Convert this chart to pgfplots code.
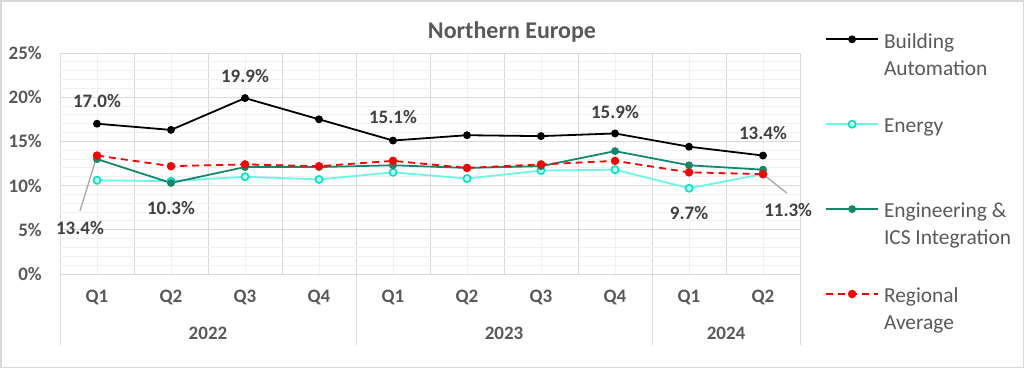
\documentclass[border=0pt]{standalone}
\usepackage{fontspec}
\setmainfont{Carlito}
\usepackage{pgfplots}
\pgfplotsset{compat=1.18}
\definecolor{txt}{HTML}{595959}
\definecolor{lbl}{HTML}{404040}
\definecolor{gmaj}{HTML}{D9D9D9}
\definecolor{gmin}{HTML}{F0F0F0}
\definecolor{energy}{RGB}{105,248,225}
\definecolor{energym}{RGB}{0,228,196}
\definecolor{energyf}{RGB}{190,255,242}
\definecolor{eng}{RGB}{22,135,110}
\definecolor{leader}{HTML}{A6A6A6}
\begin{document}
\begin{tikzpicture}[x=1pt,y=1pt]
\useasboundingbox (0,0) rectangle (1024,368);
\draw[gmaj, line width=1.5pt] (0.75,0.75) rectangle (1023.25,367.25);
\node[text=txt, font=\fontsize{24}{28}\selectfont\bfseries] at (512,336) {Northern Europe};
\begin{axis}[
  at={(60pt,94pt)}, anchor=south west, scale only axis,
  width=740pt, height=221pt,
  xmin=-0.5, xmax=9.5, ymin=0, ymax=25,
  xtick={0,...,9}, xticklabels={Q1,Q2,Q3,Q4,Q1,Q2,Q3,Q4,Q1,Q2},
  minor xtick={-0.5,0.5,...,9.5},
  ytick={0,5,...,25}, yticklabels={0\%,5\%,10\%,15\%,20\%,25\%},
  minor ytick={1,2,3,4,6,7,8,9,11,12,13,14,16,17,18,19,21,22,23,24},
  grid=both,
  major x grid style={draw=gmin, line width=1pt},
  minor x grid style={draw=gmaj, line width=1pt},
  major y grid style={draw=gmaj, line width=1pt},
  minor y grid style={draw=gmin, line width=1pt},
  axis line style={draw=none},
  major tick length=0pt, minor tick length=0pt,
  tick style={draw=none},
  ticklabel style={font=\fontsize{19}{22}\selectfont\bfseries, text=txt},
  xticklabel style={anchor=center, yshift=-23pt},
  yticklabel style={anchor=east, inner sep=0pt, xshift=-18pt},
  clip=false,
  legend image code/.code={\draw[mark repeat=2,mark phase=2,#1] plot coordinates {(0pt,0pt) (26pt,0pt) (52pt,0pt)};},
  legend style={at={(1.0338,1.109)}, anchor=north west, draw=none, fill=none,
    inner sep=0pt, row sep=64.5pt, column sep=5pt,
    nodes={inner sep=0pt},
    font=\fontsize{21.4}{27}\selectfont, text=txt},
  legend cell align=left,
]
\addplot[black, line width=1.8pt, mark=*, mark size=3pt, mark options={solid}] coordinates {
(0,17.0) (1,16.3) (2,19.9) (3,17.5) (4,15.1) (5,15.7) (6,15.6) (7,15.9) (8,14.4) (9,13.4)};
\addlegendentry{\parbox[t]{150pt}{\strut Building\\\strut Automation}}
\addplot[energy, line width=1.8pt, mark=*, mark size=3.6pt, mark options={draw=energym, fill=energyf, line width=1.6pt}] coordinates {
(0,10.6) (1,10.5) (2,11.0) (3,10.7) (4,11.5) (5,10.8) (6,11.7) (7,11.8) (8,9.7) (9,11.3)};
\addlegendentry{\parbox[t]{150pt}{\strut Energy\\\strut}}
\addplot[eng, line width=1.8pt, mark=*, mark size=3pt] coordinates {
(0,13.0) (1,10.3) (2,12.1) (3,12.1) (4,12.3) (5,12.0) (6,12.2) (7,13.9) (8,12.3) (9,11.8)};
\addlegendentry{\parbox[t]{150pt}{\strut Engineering \&\\\strut ICS Integration}}
\addplot[red, line width=1.8pt, dash pattern=on 7pt off 5pt, mark=*, mark size=3.3pt, mark options={solid}] coordinates {
(0,13.4) (1,12.2) (2,12.4) (3,12.2) (4,12.8) (5,12.0) (6,12.4) (7,12.8) (8,11.5) (9,11.3)};
\addlegendentry{\parbox[t]{150pt}{\strut Regional\\\strut Average}}
% leader lines
\draw[leader, line width=1.3pt] (axis cs:0,13.4) -- (axis cs:-0.23,7.13);
\draw[leader, line width=1.3pt] (axis cs:9,11.3) -- (axis cs:9.32,9.16);
% data labels
\begin{scope}[every node/.style={font=\fontsize{19}{22}\selectfont\bfseries, text=lbl}]
\node at (axis cs:0,19.57) {17.0\%};
\node at (axis cs:2,22.4) {19.9\%};
\node at (axis cs:4,17.76) {15.1\%};
\node at (axis cs:7,18.33) {15.9\%};
\node at (axis cs:9,15.95) {13.4\%};
\node at (axis cs:1,7.47) {10.3\%};
\node at (axis cs:-0.23,5.2) {13.4\%};
\node at (axis cs:8,6.9) {9.7\%};
\node at (axis cs:9.34,7.24) {11.3\%};
\end{scope}
% year separators
\draw[gmaj, line width=1pt] (axis cs:-0.5,0) -- ([yshift=-71pt]axis cs:-0.5,0);
\draw[gmaj, line width=1pt] (axis cs:3.5,0) -- ([yshift=-71pt]axis cs:3.5,0);
\draw[gmaj, line width=1pt] (axis cs:7.5,0) -- ([yshift=-71pt]axis cs:7.5,0);
\draw[gmaj, line width=1pt] (axis cs:9.5,0) -- ([yshift=-71pt]axis cs:9.5,0);
\node[font=\fontsize{19}{22}\selectfont\bfseries, text=txt] at ([yshift=-59pt]axis cs:1.5,0) {2022};
\node[font=\fontsize{19}{22}\selectfont\bfseries, text=txt] at ([yshift=-59pt]axis cs:5.5,0) {2023};
\node[font=\fontsize{19}{22}\selectfont\bfseries, text=txt] at ([yshift=-59pt]axis cs:8.5,0) {2024};
\end{axis}
\end{tikzpicture}
\end{document}
